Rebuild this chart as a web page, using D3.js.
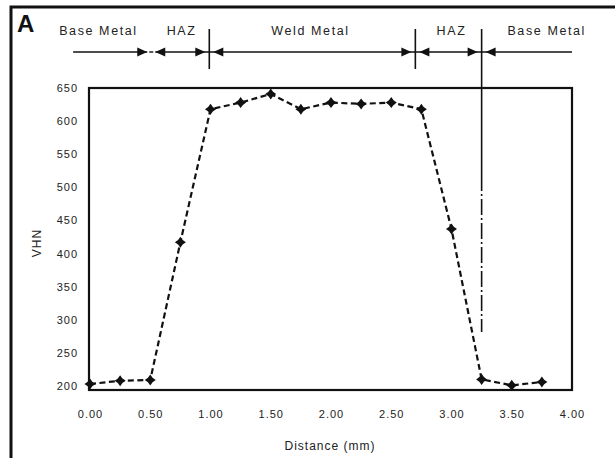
<!DOCTYPE html>
<html>
<head>
<meta charset="utf-8">
<script src="https://cdn.jsdelivr.net/npm/d3@7"></script>
<style>
  body { margin: 0; background: #fff; }
  svg { display: block; font-family: "Liberation Sans", Arial, sans-serif; }
  .tick text { font-size: 11px; letter-spacing: 1px; fill: #222; }
</style>
</head>
<body>
<svg id="chart" width="615" height="458"></svg>
<script>
// microhardness profile across the weld
const distance = [0, 0.25, 0.5, 0.75, 1.0, 1.25, 1.5, 1.75, 2.0, 2.25, 2.5, 2.75, 3.0, 3.25, 3.5, 3.75]
const vhn = [203, 208, 209, 417, 618, 628, 641, 618, 628, 626, 628, 618, 437, 210, 201, 206]

const xTicks = [0, 0.5, 1.0, 1.5, 2.0, 2.5, 3.0, 3.5, 4.0]
const yTicks = [200, 250, 300, 350, 400, 450, 500, 550, 600, 650]

// zones across the top (in mm)
const zoneNames = ['Base Metal', 'HAZ', 'Weld Metal', 'HAZ', 'Base Metal']
const zoneStart = [-0.14, 0.5, 0.99, 2.7, 3.25]
const zoneEnd = [0.5, 0.99, 2.7, 3.25, 4.0]
const zoneLabelAt = [0.07, 0.76, 1.83, 3.0, 3.79]
const boundaryLines = [0.99, 2.7, 3.25]

const svg = d3.select('#chart')
const width = 615, height = 458
const plot = {left: 89, right: 572, top: 88, bottom: 390}

svg.append('rect').attr('width', width).attr('height', height).attr('fill', '#fff')

var x = d3.scaleLinear().domain([0, 4]).range([90, 572])
var y = d3.scaleLinear().domain([200, 650]).range([386, 88])

// outer panel border (top + left)
svg.append('path')
    .attr('d', `M11,${height} L11,7 L615,7`)
    .attr('fill', 'none').attr('stroke', '#111').attr('stroke-width', 3)

svg.append('text').attr('x', 17).attr('y', 32)
    .attr('font-size', 24).attr('font-weight', 'bold').attr('fill', '#111')
    .text('A')

// header: zone labels, dimension line and arrows
const headY = 52
svg.append('line')
    .attr('x1', x(zoneStart[0])).attr('x2', x(zoneEnd[4]))
    .attr('y1', headY).attr('y2', headY)
    .attr('stroke', '#111').attr('stroke-width', 1.6)

svg.selectAll('.zlabel')
    .data(zoneNames)
    .enter()
    .append('text')
    .attr('class', 'zlabel')
    .attr('x', (d, i) => x(zoneLabelAt[i]))
    .attr('y', 35)
    .attr('text-anchor', 'middle')
    .attr('font-size', 12.5)
    .attr('letter-spacing', 1.6)
    .attr('fill', '#222')
    .text(d => d)

const arrow = (tip, dir) => {
    // filled triangle, dir = 1 points right, -1 points left
    const back = tip - dir * 10
    return `M${tip},${headY} L${back},${headY - 4.5} L${back},${headY + 4.5} Z`
}
var heads = []
zoneNames.forEach((n, i) => {
    if (i > 0) heads.push({tip: x(zoneStart[i]) + (boundaryLines.includes(zoneStart[i]) ? 4 : 5), dir: -1})
    if (i < zoneNames.length - 1) heads.push({tip: x(zoneEnd[i]) - (boundaryLines.includes(zoneEnd[i]) ? 4 : 3), dir: 1})
})
svg.selectAll('.head')
    .data(heads)
    .enter()
    .append('path')
    .attr('d', d => arrow(d.tip, d.dir))
    .attr('fill', '#111')

// little gap dash at the first boundary (no vertical line there)
svg.append('line')
    .attr('x1', x(0.5) - 3).attr('x2', x(0.5) + 5)
    .attr('y1', headY).attr('y2', headY)
    .attr('stroke', '#fff').attr('stroke-width', 2)
svg.append('line')
    .attr('x1', x(0.5) - 1).attr('x2', x(0.5) + 3)
    .attr('y1', headY).attr('y2', headY)
    .attr('stroke', '#111').attr('stroke-width', 1.4)

svg.selectAll('.bline')
    .data(boundaryLines)
    .enter()
    .append('line')
    .attr('x1', d => x(d)).attr('x2', d => x(d))
    .attr('y1', 29).attr('y2', (d, i) => i == 2 ? 175 : 69)
    .attr('stroke', '#111').attr('stroke-width', 1.6)

// fusion line continues down into the plot as dash-dot
svg.append('line')
    .attr('x1', x(3.25)).attr('x2', x(3.25))
    .attr('y1', 175).attr('y2', 332)
    .attr('stroke', '#111').attr('stroke-width', 1.6)
    .attr('stroke-dasharray', '16,3,2,3')

// plot frame
svg.append('rect')
    .attr('x', plot.left).attr('y', plot.top)
    .attr('width', plot.right - plot.left).attr('height', plot.bottom - plot.top)
    .attr('fill', 'none').attr('stroke', '#111').attr('stroke-width', 2.2)

// axes
var xAxis = svg.append('g').attr('transform', `translate(0,${plot.bottom})`)
xAxis.call(d3.axisBottom(x).tickValues(xTicks).tickFormat(d3.format('.2f')).tickSize(0).tickPadding(20))
xAxis.select('.domain').remove()

var yAxis = svg.append('g').attr('transform', `translate(${plot.left},0)`)
yAxis.call(d3.axisLeft(y).tickValues(yTicks).tickSize(0).tickPadding(11))
yAxis.select('.domain').remove()

svg.append('text')
    .attr('x', 330).attr('y', 450)
    .attr('text-anchor', 'middle').attr('font-size', 12).attr('letter-spacing', 1)
    .attr('fill', '#222')
    .text('Distance (mm)')

svg.append('text')
    .attr('transform', 'translate(41,243) rotate(-90)')
    .attr('text-anchor', 'middle').attr('font-size', 12).attr('letter-spacing', 1)
    .attr('fill', '#222')
    .text('VHN')

// the hardness curve
var line = d3.line().x((d, i) => x(distance[i])).y(d => y(d))
svg.append('path')
    .datum(vhn)
    .attr('d', line)
    .attr('fill', 'none')
    .attr('stroke', '#111')
    .attr('stroke-width', 2.2)
    .attr('stroke-dasharray', '6,3.5')

// four pointed star markers
const star4 = {
    draw(ctx, size) {
        const r = Math.sqrt(size) * 0.85, w = r * 0.42
        ctx.moveTo(0, -r)
        ctx.lineTo(w, -w); ctx.lineTo(r, 0); ctx.lineTo(w, w)
        ctx.lineTo(0, r)
        ctx.lineTo(-w, w); ctx.lineTo(-r, 0); ctx.lineTo(-w, -w)
        ctx.closePath()
    }
}
svg.selectAll('.pt')
    .data(vhn)
    .enter()
    .append('path')
    .attr('class', 'pt')
    .attr('transform', (d, i) => `translate(${x(distance[i])},${y(d)})`)
    .attr('d', d3.symbol().type(star4).size(42))
    .attr('fill', '#111')
</script>
</body>
</html>
